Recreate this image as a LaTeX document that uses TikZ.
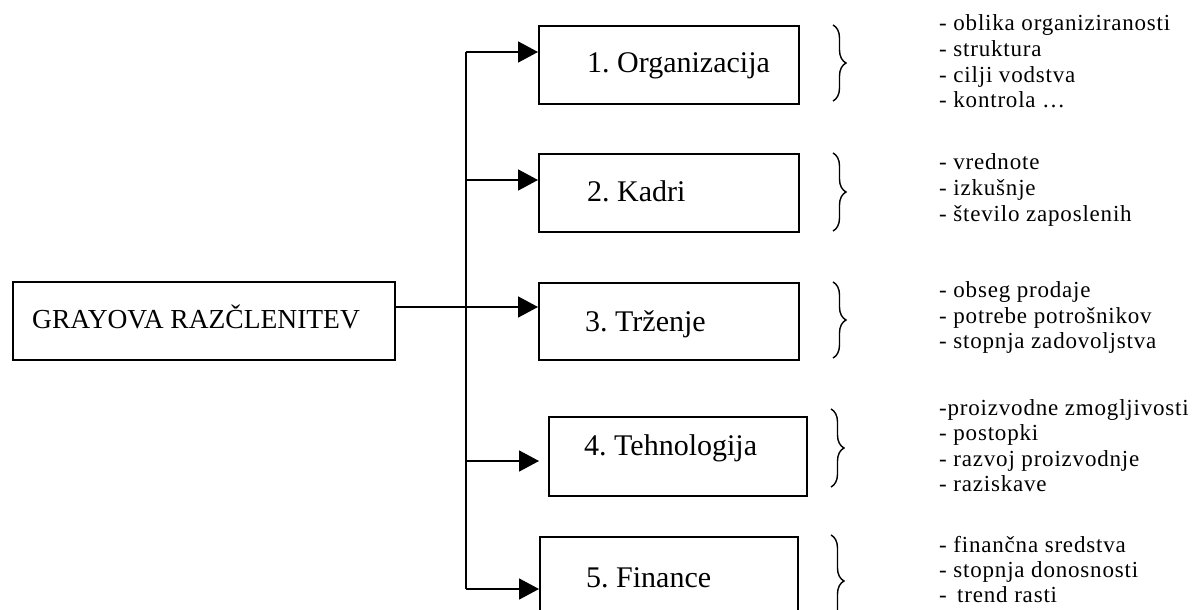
\documentclass[tikz,border=0pt]{standalone}
\usepackage{fontspec}
\setmainfont{Liberation Serif}
\newfontfamily\listfont[LetterSpace=3.5]{Liberation Serif}
\usetikzlibrary{arrows.meta,decorations.pathreplacing}
\frenchspacing
\begin{document}
\begin{tikzpicture}[x=1pt,y=-1pt,
  box/.style={draw, line width=1.8pt, inner sep=0pt, anchor=north west},
  lbl/.style={inner sep=0pt, anchor=base west, font=\frenchspacing\fontsize{30}{36}\selectfont},
  mainlbl/.style={inner sep=0pt, anchor=base west, font=\fontsize{27.5}{33}\selectfont},
  item/.style={inner sep=0pt, anchor=base west, font=\listfont\fontsize{23}{26}\selectfont},
  conn/.style={line width=1.7pt},
  arr/.style={line width=1.7pt, -{Triangle[length=20pt,width=21pt]}},
  br/.style={decorate, decoration={brace, amplitude=13pt}, line width=1.4pt}]
\useasboundingbox (0,0) rectangle (1200,610);
\begin{scope}
\clip (0,0) rectangle (1200,610);
% main box
\node[box, minimum width=382pt, minimum height=78pt] (main) at (12,281) {};
\node[mainlbl] (mt) at (32,328) {GRAYOVA RAZČLENITEV};
% boxes
\node[box, minimum width=260pt, minimum height=78pt] (b1) at (538,25) {};
\node[box, minimum width=260pt, minimum height=78pt] (b2) at (538,153) {};
\node[box, minimum width=260pt, minimum height=77pt] (b3) at (538,282) {};
\node[box, minimum width=258pt, minimum height=79pt] (b4) at (548,416) {};
\node[box, minimum width=258pt, minimum height=80pt] (b5) at (539,536) {};
\node[lbl] (t1) at (587,73) {1. Organizacija};
\node[lbl] (t2) at (587,201) {2. Kadri};
\node[lbl] (t3) at (585,331) {3. Trženje};
\node[lbl] (t4) at (584,455) {4. Tehnologija};
\node[lbl] (t5) at (586,587) {5. Finance};
% connectors
\coordinate (j1) at (466,52);
\coordinate (j2) at (466,180);
\coordinate (j4) at (466,461);
\coordinate (j5) at (466,589);
\coordinate (m) at (394,307);
\coordinate (e4) at (539,461);
\draw[conn] (j1) -- (j5);
\draw[arr] (j1) -- (j1 -| b1.west);
\draw[arr] (j2) -- (j2 -| b2.west);
\draw[arr] (m) -- (m -| b3.west);
\draw[arr] (j4) -- (e4);
\draw[arr] (j5) -- (j5 -| b5.west);
% braces
\draw[br] (833,25) -- (833,101);
\draw[br] (833,153) -- (833,231);
\draw[br] (833,282) -- (833,358);
\draw[br] (831,409) -- (831,487);
\draw[br] (831,535) -- (831,627);
\end{scope}
% lists
\node[item] (a1) at (939,31) {- oblika organiziranosti};
\node[item] (a2) at (939,57) {- struktura};
\node[item] (a3) at (939,82) {- cilji vodstva};
\node[item] (a4) at (939,107) {- kontrola …};
\node[item] (k1) at (939,169) {- vrednote};
\node[item] (k2) at (939,195) {- izkušnje};
\node[item] (k3) at (939,221) {- število zaposlenih};
\node[item] (r1) at (939,297) {- obseg prodaje};
\node[item] (r2) at (939,323) {- potrebe potrošnikov};
\node[item] (r3) at (939,348) {- stopnja zadovoljstva};
\node[item] (p1) at (939,415) {-proizvodne zmogljivosti};
\node[item] (p2) at (939,440) {- postopki};
\node[item] (p3) at (939,466) {- razvoj proizvodnje};
\node[item] (p4) at (939,491) {- raziskave};
\node[item] (f1) at (939,552) {- finančna sredstva};
\node[item] (f2) at (939,577) {- stopnja donosnosti};
\node[item] (f3) at (939,602) {- \,trend rasti};
\end{tikzpicture}
\end{document}
